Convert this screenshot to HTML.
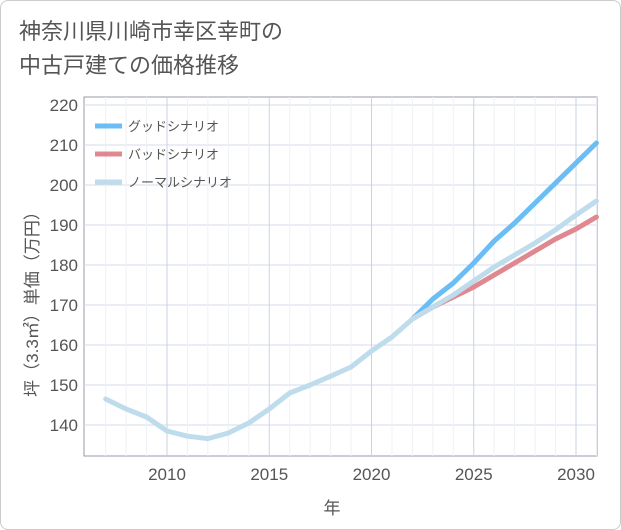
<!DOCTYPE html>
<html><head><meta charset="utf-8"><style>
body{margin:0;background:#fff;font-family:"Liberation Sans","Noto Sans CJK JP",sans-serif}
#wrap{position:relative;width:619px;height:528px;border:1px solid #ccc;border-radius:8px;background:#fff}
.title{position:absolute;left:18px;top:14px;font-size:22px;line-height:34px;color:#555}
</style></head><body>
<div id="wrap">
<div class="title">神奈川県川崎市幸区幸町の<br>中古戸建ての価格推移</div>
<svg id="chart" width="621" height="530" style="position:absolute;left:-1px;top:-1px"></svg>
</div>
<script>
const years=[2007,2008,2009,2010,2011,2012,2013,2014,2015,2016,2017,2018,2019,2020,2021,2022,2023,2024,2025,2026,2027,2028,2029,2030,2031];
const normal=[146.5,144,142,138.5,137.2,136.6,138,140.5,144,148,150,152.2,154.5,158.5,162,166.5,169.5,172.5,176,179.5,182.5,185.5,188.8,192.5,196];
const fYears=[2022,2023,2024,2025,2026,2027,2028,2029,2030,2031];
const good=[166.5,171.5,175.5,180.5,186,190.5,195.5,200.5,205.5,210.5];
const bad=[166.5,169.5,172,174.5,177.5,180.5,183.5,186.5,189,192];
const yTicks=[140,150,160,170,180,190,200,210,220];
const xTicks=[2010,2015,2020,2025,2030];
const NS="http://www.w3.org/2000/svg",svg=document.getElementById('chart');
const L=84,R=597,T=97,B=456;
const x=v=>167+(v-2010)*20.45;
const y=v=>105+(220-v)*4;
function mk(t,a){const e=document.createElementNS(NS,t);for(const k in a)e.setAttribute(k,a[k]);svg.appendChild(e);return e;}
let e=mk('rect',{x:L,y:T,width:R-L,height:B-T,fill:'#fff',stroke:'#99a',"stroke-width":1});


yTicks.forEach(v=>{
 let g=mk('line',{x1:L,x2:R,y1:y(v),y2:y(v),stroke:'#d5dde8'});
 
 
 let t=mk('text',{x:78,y:y(v)+6,"text-anchor":"end","font-size":17,fill:'#555'});t.textContent=v;
 
 
});
for(let yr=2007;yr<=2031;yr++){
 let major=xTicks.includes(yr);
 let g=mk('line',{x1:x(yr),x2:x(yr),y1:T,y2:B,stroke:major?'#c8d3e2':'#eef1f5'});
 
 
}
xTicks.forEach(v=>{
 let t=mk('text',{x:x(v),y:480,"text-anchor":"middle","font-size":17,fill:'#555'});t.textContent=v;
 
 
});
function line(xs,ys,c,n){
 let p=mk('polyline',{points:xs.map((v,i)=>x(v)+','+y(ys[i])).join(' '),fill:'none',stroke:c,"stroke-width":5,"stroke-linejoin":"round","stroke-linecap":"round"});
 
 
}
line(fYears,good,'#6bbdf5','good-scenario-line');
line(fYears,bad,'#e08890','bad-scenario-line');
line(years,normal,'#bfdcec','normal-scenario-line');
let at=mk('text',{x:332,y:514,"text-anchor":"middle","font-size":17,fill:'#555'});at.textContent='年';


let yt=mk('text',{x:0,y:0,"text-anchor":"middle","font-size":17,fill:'#555',transform:'translate(38,300) rotate(-90)'});yt.textContent='坪（3.3㎡）単価（万円）';


[['グッドシナリオ','#6bbdf5','legend-good'],['バッドシナリオ','#e08890','legend-bad'],['ノーマルシナリオ','#bfdcec','legend-normal']].forEach((d,i)=>{
 let ly=126+i*28;
 let l=mk('line',{x1:95,x2:122,y1:ly,y2:ly,stroke:d[1],"stroke-width":5});
 
 
 let t=mk('text',{x:128,y:ly+5,"font-size":13,fill:'#555'});t.textContent=d[0];
 
 
});
</script>
</body></html>
